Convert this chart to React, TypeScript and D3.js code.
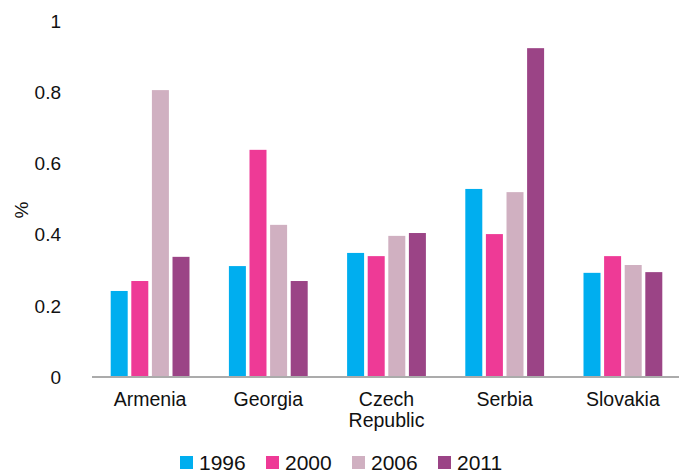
import { useEffect, useRef } from 'react';
import * as d3 from 'd3';

// chart data
const countries = ['Armenia', 'Georgia', 'Czech Republic', 'Serbia', 'Slovakia'];
const years = ['1996', '2000', '2006', '2011'];
const v1996 = [0.242, 0.312, 0.349, 0.529, 0.293];
const v2000 = [0.27, 0.639, 0.34, 0.402, 0.34];
const v2006 = [0.807, 0.428, 0.397, 0.52, 0.315];
const v2011 = [0.338, 0.27, 0.405, 0.925, 0.295];
const yTicks = [0, 0.2, 0.4, 0.6, 0.8, 1];

const COLORS = ['#00AEEF', '#EE3A96', '#D0B0C1', '#9B4486'];
const FONT = 'Arial, "Liberation Sans", sans-serif';

export default function App() {
  const ref = useRef<SVGSVGElement>(null);

  useEffect(() => {
    if (!ref.current) return;
    const svg = d3.select(ref.current);
    svg.selectAll('*').remove();

    const series = [v1996, v2000, v2006, v2011];

    const x0 = d3.scaleBand().domain(countries).range([91, 682]).padding(0);
    const groupW = 78.8;
    const x1 = d3.scaleBand().domain(years).range([0, groupW]).paddingInner(0.175).paddingOuter(0);
    const y = d3.scaleLinear().domain([0, 1]).range([377, 21.5]);

    // bars
    const g = svg.append('g');
    countries.forEach((c, ci) => {
      const off = x0(c)! + (x0.bandwidth() - groupW) / 2;
      years.forEach((yr, si) => {
        const v = series[si][ci];
        g.append('rect')
          .attr('x', off + x1(yr)!)
          .attr('y', y(v))
          .attr('width', x1.bandwidth())
          .attr('height', y(0) - y(v))
          .attr('fill', COLORS[si]);
      });
    });

    // x axis line
    svg.append('line')
      .attr('x1', 92).attr('x2', 679)
      .attr('y1', y(0)).attr('y2', y(0))
      .attr('stroke', '#ABABAB')
      .attr('stroke-width', 2);

    // y tick labels
    svg.append('g')
      .selectAll('text')
      .data(yTicks)
      .join('text')
      .attr('x', 61)
      .attr('y', d => y(d))
      .attr('dy', '0.35em')
      .attr('text-anchor', 'end')
      .attr('font-size', 19)
      .attr('font-family', FONT)
      .attr('fill', '#111')
      .text(d => String(d));

    // y title
    svg.append('text')
      .attr('transform', `translate(21, 210) rotate(-90)`)
      .attr('dy', '0.35em')
      .attr('text-anchor', 'middle')
      .attr('font-size', 19)
      .attr('font-family', FONT)
      .attr('fill', '#111')
      .text('%');

    // category labels
    const lab = svg.append('g')
      .selectAll('text')
      .data(countries)
      .join('text')
      .attr('x', d => x0(d)! + x0.bandwidth() / 2)
      .attr('y', 406)
      .attr('text-anchor', 'middle')
      .attr('font-size', 19.5)
      .attr('font-family', FONT)
      .attr('fill', '#111');
    lab.each(function (d) {
      const words = d.split(' ');
      words.forEach((w, i) => {
        d3.select(this).append('tspan')
          .attr('x', x0(d)! + x0.bandwidth() / 2)
          .attr('dy', i === 0 ? 0 : 21)
          .text(w);
      });
    });

    // legend
    const leg = svg.append('g');
    years.forEach((yr, i) => {
      const lx = 180 + i * 86;
      leg.append('rect')
        .attr('x', lx).attr('y', 456)
        .attr('width', 13).attr('height', 13)
        .attr('fill', COLORS[i]);
      leg.append('text')
        .attr('x', lx + 19).attr('y', 469.5)
        .attr('font-size', 21)
        .attr('font-family', FONT)
        .attr('fill', '#111')
        .text(yr);
    });
  }, []);

  return (
    <svg
      ref={ref}
      width={685}
      height={472}
      style={{ position: 'absolute', left: 0, top: 0, background: '#fff' }}
    />
  );
}
